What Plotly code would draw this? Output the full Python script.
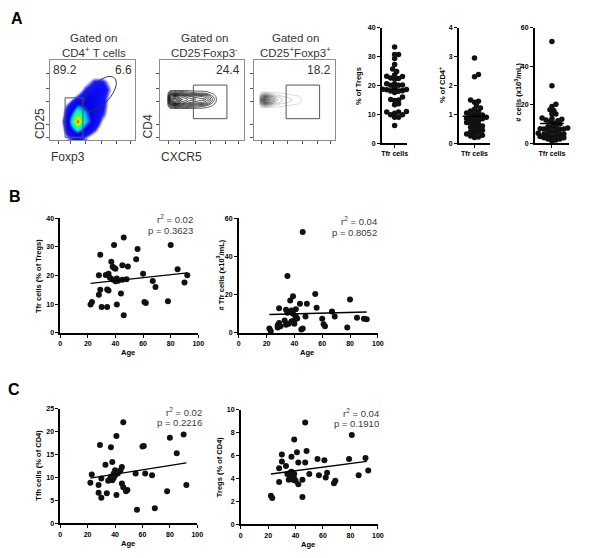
import numpy as np
import plotly.graph_objects as go

# ---------------- data ----------------
ages_b1 = [22, 23, 28, 28, 29, 29, 30, 33, 34, 34, 35, 35, 36, 37, 38, 38, 39, 39, 40, 40, 41,
           41, 42, 44, 45, 45, 46, 46, 48, 49, 55, 56, 60, 61, 62, 67, 69, 78, 80, 85, 90, 92]
tfr_tregs = [9.9, 10.8, 13.3, 20.1, 27.3, 15.0, 9.0, 20.2, 15.1, 9.0, 20.6, 14.8, 19.2, 24.8, 23.1,
             18.6, 22.6, 30.7, 22.4, 18.0, 19.0, 9.9, 18.2, 13.7, 23.6, 18.5, 33.3, 6.1, 18.7, 23.2,
             25.7, 29.3, 20.6, 10.8, 10.4, 18.1, 16.0, 11.0, 30.7, 22.2, 17.6, 20.1]

ages_b2 = [22, 23, 28, 28, 29, 29, 30, 33, 34, 34, 35, 35, 36, 37, 38, 38, 39, 39, 40, 40, 41,
           41, 42, 44, 45, 46, 46, 48, 49, 55, 56, 60, 61, 62, 67, 69, 78, 80, 85, 90, 92]
tfr_count = [2.2, 1.0, 4.0, 2.8, 12.9, 5.2, 3.5, 6.5, 12.1, 4.2, 29.8, 10.5, 4.8, 16.9, 11.7, 6.0,
             10.0, 19.1, 6.6, 4.8, 12.4, 8.6, 7.5, 15.2, 1.7, 52.8, 2.2, 8.6, 15.2, 20.3, 13.1, 7.4,
             4.5, 3.4, 11.2, 8.6, 2.8, 17.4, 7.9, 7.4, 7.1]

ages_c1 = [22, 23, 28, 28, 29, 30, 30, 33, 34, 35, 36, 37, 37, 38, 37, 38, 39, 39, 40, 40, 41, 41,
           41, 42, 44, 45, 46, 45, 46, 48, 49, 55, 56, 60, 61, 62, 67, 69, 78, 80, 85, 90, 92]
tfh_cd4 = [8.9, 10.7, 6.7, 8.4, 17.1, 9.8, 5.6, 12.8, 6.6, 9.3, 9.6, 9.8, 10.2, 9.4, 16.6, 13.4,
           10.9, 9.9, 11.6, 10.5, 11.1, 19.1, 6.2, 10.9, 11.6, 12.3, 22.1, 8.7, 7.9, 7.0, 7.3, 10.9,
           3.0, 16.8, 16.9, 10.9, 10.5, 3.3, 7.0, 18.7, 15.3, 19.4, 8.4]

ages_c2 = [22, 23, 28, 28, 30, 30, 33, 34, 35, 36, 36, 37, 37, 38, 38, 39, 39, 39, 40, 41, 42, 42,
           45, 45, 47, 47, 48, 50, 56, 57, 61, 62, 63, 68, 69, 79, 81, 86, 91, 93]
tregs_cd4 = [2.5, 2.3, 4.9, 3.7, 5.5, 6.1, 5.1, 4.4, 3.9, 4.2, 4.5, 4.6, 5.9, 3.9, 4.3, 7.4, 4.0,
             4.4, 3.8, 6.3, 5.4, 3.5, 2.4, 3.9, 8.9, 5.4, 6.4, 4.4, 5.7, 4.3, 5.6, 4.1, 4.5, 3.6,
             3.8, 5.7, 7.8, 4.3, 5.8, 4.7]

tfr_pct_cd4 = [2.95, 2.38, 2.30, 1.50, 1.45, 1.42, 1.30, 1.22, 1.18, 1.10, 1.05, 1.02, 0.98, 0.95,
               0.93, 0.90, 0.88, 0.85, 0.82, 0.78, 0.75, 0.72, 0.68, 0.65, 0.60, 0.55, 0.52, 0.48,
               0.45, 0.40, 0.38, 0.35, 0.32, 0.28, 0.25, 0.22, 0.20, 1.12, 0.86, 0.62]

median_tregs = 18.7
median_cd4 = 0.93
median_count = 10.2

fit_age = [22, 92]
fit_b1 = [17.3, 20.9]
fit_b2 = [9.6, 10.9]
fit_c1 = [9.9, 13.2]
fit_c2 = [4.4, 5.5]

stat_r2 = ["0.02", "0.04", "0.02", "0.04"]
stat_p = ["0.3623", "0.8052", "0.2216", "0.1910"]

flow_titles = ["CD4<sup>+</sup> T cells", "CD25<sup>-</sup>Foxp3<sup>-</sup>",
               "CD25<sup>+</sup>Foxp3<sup>+</sup>"]
flow_pcts = ["89.2", "6.6", "24.4", "18.2"]

# flow plot 1 density (rows = CD25 level, cols = Foxp3 level)
flow1_x = [0.15, 1.15, 2.15, 3.15, 4.15, 5.15, 6.15, 7.15, 8.15, 9.15, 10.15]
flow1_y = [0.35, 1.35, 2.35, 3.35, 4.35, 5.35, 6.35, 7.35, 8.35, 9.35, 10.35]
flow1_z = [
    [0, 0, 1.5, 2.5, 1.5, 0, 0, 0, 0, 0, 0],
    [0, 0, 3.5, 6.5, 4.0, 2.0, 0, 0, 0, 0, 0],
    [0, 0.5, 4.5, 10.0, 6.0, 3.5, 1.0, 0, 0, 0, 0],
    [0, 0, 3.5, 7.5, 5.5, 3.5, 2.0, 0, 0, 0, 0],
    [0, 0, 2.0, 5.0, 4.5, 3.5, 2.5, 0, 0, 0, 0],
    [0, 0, 0, 2.0, 3.5, 3.5, 2.5, 0.5, 0, 0, 0],
    [0, 0, 0, 0, 2.0, 3.0, 3.0, 1.0, 0, 0, 0],
    [0, 0, 0, 0, 0.5, 2.0, 2.0, 0.5, 0, 0, 0],
    [0, 0, 0, 0, 0, 0, 0, 0, 0, 0, 0],
    [0, 0, 0, 0, 0, 0, 0, 0, 0, 0, 0],
    [0, 0, 0, 0, 0, 0, 0, 0, 0, 0, 0],
]
# flow plot 2 density (CD4 vs CXCR5)
flow2_x = [0.9, 1.25, 1.8, 2.5, 3.5, 4.5, 5.5, 6.3, 6.9]
flow2_y = [3.9, 4.3, 4.7, 5.1, 5.5, 5.9, 6.3]
flow2_z = [
    [0, 0, 0, 0, 0, 0, 0, 0, 0],
    [0, 2.0, 3.0, 2.5, 2.0, 1.5, 1.0, 0.3, 0],
    [0, 5.0, 8.0, 5.0, 4.0, 3.5, 3.0, 1.0, 0],
    [0, 6.0, 9.0, 6.0, 5.0, 4.5, 4.0, 1.5, 0],
    [0, 5.0, 7.0, 5.0, 4.0, 3.5, 3.0, 1.0, 0],
    [0, 2.0, 2.5, 2.0, 1.5, 1.0, 0.8, 0.3, 0],
    [0, 0, 0, 0, 0, 0, 0, 0, 0],
]
# flow plot 3 density
flow3_x = [0.7, 1.0, 1.4, 2.0, 2.7, 3.5, 4.5, 5.5, 6.4]
flow3_y = [4.0, 4.4, 4.75, 5.05, 5.35, 5.7, 6.1]
flow3_z = [
    [0, 0, 0, 0, 0, 0, 0, 0, 0],
    [0, 2.0, 3.0, 2.0, 0.8, 0.5, 0.3, 0.2, 0],
    [0, 5.0, 8.0, 5.0, 2.0, 1.2, 0.8, 0.4, 0],
    [0, 6.0, 10.0, 6.0, 2.5, 1.5, 1.0, 0.5, 0],
    [0, 5.0, 8.0, 5.0, 2.0, 1.2, 0.8, 0.4, 0],
    [0, 2.0, 3.0, 2.0, 0.8, 0.5, 0.3, 0.2, 0],
    [0, 0, 0, 0, 0, 0, 0, 0, 0],
]
# gates (axis units 0-10)
gate1_rect = [1.74, 0.37, 3.84, 5.3]
gate1_ellipse = {"cx": 99, "cy": 91, "a": 22, "b": 10.5, "angle": 47}  # pixel space
gate2_rect = [4.0, 2.7, 8.0, 6.9]
gate3_rect = [3.98, 2.7, 8.07, 6.9]

# ---------------- layout helpers ----------------
W, H = 591, 558
FONT = "Liberation Sans, Arial, sans-serif"

layout = dict(width=W, height=H, margin=dict(l=0, r=0, t=0, b=0), autosize=False,
              paper_bgcolor="white", plot_bgcolor="rgba(0,0,0,0)", showlegend=False,
              font=dict(family=FONT, color="black"), annotations=[], shapes=[])
fig = go.Figure()


def refs(i):
    return ("x" if i == 1 else f"x{i}"), ("y" if i == 1 else f"y{i}")


def add_axes(i, xd, yd, xcfg, ycfg):
    xr, yr = refs(i)
    layout["xaxis" if i == 1 else f"xaxis{i}"] = dict(domain=[xd[0] / W, xd[1] / W], anchor=yr, **xcfg)
    layout["yaxis" if i == 1 else f"yaxis{i}"] = dict(domain=[1 - yd[1] / H, 1 - yd[0] / H], anchor=xr, **ycfg)


def ann(text, x, y, size, xanchor="center", yanchor="middle", angle=0, color="black"):
    layout["annotations"].append(dict(text=text, x=x / W, y=1 - y / H, xref="paper", yref="paper",
                                      showarrow=False, xanchor=xanchor, yanchor=yanchor,
                                      textangle=angle, font=dict(size=size, color=color, family=FONT)))


def bold_ticks(vals):
    return [f"<b>{v}</b>" for v in vals]


# ---------------- flow plots ----------------
flow_ax = dict(range=[0, 10], showline=True, mirror=True, linecolor="#8c8c8c", linewidth=1,
               ticks="outside", ticklen=3, tickwidth=1, tickcolor="#555", showticklabels=False,
               showgrid=False, zeroline=False)
flow_boxes = [([49, 135], [57, 138]), ([160, 245], [57, 138]), ([255, 338], [57, 138])]
for k, (xd, yd) in enumerate(flow_boxes):
    add_axes(k + 1, xd, yd, dict(flow_ax, tickvals=[1, 2.4, 4.2, 6, 7.8, 9.4]),
             dict(flow_ax, tickvals=[0.3, 2.0, 4.8, 6.5, 8.3]))

x1, y1 = refs(1)
fig.add_trace(go.Heatmap(x=flow1_x, y=flow1_y, z=flow1_z, zsmooth="best", zmin=0, zmax=10,
                         showscale=False, xaxis=x1, yaxis=y1, hoverinfo="skip",
                         colorscale=[[0, "#ffffff"], [0.1, "#ffffff"], [0.16, "#5a5aff"],
                                     [0.2, "#1414ff"], [0.45, "#0000e6"], [0.56, "#00b4ff"],
                                     [0.66, "#00ffd0"], [0.76, "#40ff40"], [0.86, "#d8ff00"],
                                     [0.93, "#ffa000"], [1, "#ee0000"]]))
x2, y2 = refs(2)
fig.add_trace(go.Contour(x=flow2_x, y=flow2_y, z=flow2_z, showscale=False, xaxis=x2, yaxis=y2,
                         contours=dict(coloring="lines", start=0.4, end=9.0, size=0.6),
                         line=dict(width=0.8, smoothing=1.0),
                         colorscale=[[0, "#333333"], [1, "#000000"]], hoverinfo="skip"))
x3, y3 = refs(3)
fig.add_trace(go.Contour(x=flow3_x, y=flow3_y, z=flow3_z, showscale=False, xaxis=x3, yaxis=y3,
                         contours=dict(coloring="lines", start=0.3, end=10.0, size=0.6),
                         line=dict(width=0.8, smoothing=1.0),
                         colorscale=[[0, "#d0d0d0"], [0.25, "#909090"], [1, "#222222"]],
                         hoverinfo="skip"))

for (xr, yr), g in [(refs(1), gate1_rect), (refs(2), gate2_rect), (refs(3), gate3_rect)]:
    layout["shapes"].append(dict(type="rect", xref=xr, yref=yr, x0=g[0], y0=g[1], x1=g[2], y1=g[3],
                                 line=dict(color="#555", width=1)))

# ellipse gate (computed in pixel space, converted to axis units of plot 1)
e = gate1_ellipse
t = np.linspace(0, 2 * np.pi, 60)
ang = np.deg2rad(e["angle"])
pxs = e["cx"] + e["a"] * np.cos(t) * np.cos(ang) - e["b"] * np.sin(t) * np.sin(ang)
pys = e["cy"] - (e["a"] * np.cos(t) * np.sin(ang) + e["b"] * np.sin(t) * np.cos(ang))
ex = (pxs - 49) / 86 * 10
ey = (138 - pys) / 81 * 10
path = "M " + " L ".join(f"{a:.3f},{b:.3f}" for a, b in zip(ex, ey)) + " Z"
layout["shapes"].append(dict(type="path", xref="x", yref="y", path=path,
                             line=dict(color="#333", width=1)))

# flow texts
for cx, title in zip([93, 205, 298], flow_titles):
    ann("Gated on", cx, 34, 11.5, color="#333")
    ann(title, cx, 49, 11.5, color="#333")
ann(flow_pcts[0], 50, 67, 12, xanchor="left", color="#333")
ann(flow_pcts[1], 134, 67, 12, xanchor="right", color="#333")
ann(flow_pcts[2], 243, 67, 12, xanchor="right", color="#333")
ann(flow_pcts[3], 336, 67, 12, xanchor="right", color="#333")
ann("CD25", 39, 121, 12, angle=-90, color="#333")
ann("Foxp3", 67, 155, 12, color="#333")
ann("CD4", 148, 124, 12, angle=-90, color="#333")
ann("CXCR5", 182, 155, 12, color="#333")

# ---------------- dot plots ----------------
TICKF = dict(size=7, family=FONT, color="black")
axis_base = dict(showline=True, linecolor="black", linewidth=1.5, ticks="outside", ticklen=3,
                 tickwidth=1.3, tickcolor="black", showgrid=False, zeroline=False, tickfont=TICKF)


def swarm(vals, ppu, step=2.0, mind=3.8):
    vals = np.asarray(vals, dtype=float)
    order = np.argsort(vals)
    placed = []
    offs = np.zeros(len(vals))
    cands = [0.0]
    for j in range(1, 30):
        cands += [j * step, -j * step]
    for i in order:
        yv = vals[i] * ppu
        for c in cands:
            if all((c - a) ** 2 + (yv - b) ** 2 >= mind ** 2 for a, b in placed):
                break
        placed.append((c, yv))
        offs[i] = c
    return offs


dot_specs = [
    (4, tfr_tregs, 40, [0, 10, 20, 30, 40], [385, 411], median_tregs, 9, "% of Tregs", 362, 83),
    (5, tfr_pct_cd4, 4, [0, 1, 2, 3, 4], [463, 495], median_cd4, 12, "% of CD4<sup>+</sup>", 446, 82),
    (6, tfr_count, 60, [0, 20, 40, 60], [540, 575], median_count, 12,
     "# cells (x10<sup>3</sup>/mL)", 523, 89),
]
for idx, vals, ymax, yt, xd, med, mhalf, ytitle, tx, ty in dot_specs:
    wpx = xd[1] - xd[0]
    add_axes(idx, xd, [24, 141],
             dict(axis_base, range=[-1, 1], tickvals=[0], ticktext=["<b>Tfr cells</b>"]),
             dict(axis_base, range=[0, ymax], tickvals=yt, ticktext=bold_ticks(yt)))
    xr, yr = refs(idx)
    offs = swarm(vals, 117 / ymax) * 2 / wpx
    fig.add_trace(go.Scatter(x=offs, y=vals, mode="markers", xaxis=xr, yaxis=yr,
                             marker=dict(size=5.5, color="#111"), cliponaxis=False))
    mh = mhalf * 2 / wpx
    fig.add_trace(go.Scatter(x=[-mh, mh], y=[med, med], mode="lines", xaxis=xr, yaxis=yr,
                             line=dict(color="black", width=1.5)))
    ann(f"<b>{ytitle}</b>", tx, ty, 7.5, angle=-90)

# ---------------- scatter / regression plots ----------------
xt = [0, 20, 40, 60, 80, 100]
sc_specs = [
    (7, ages_b1, tfr_tregs, fit_b1, [59, 199], [217, 333], [0, 10, 20, 30, 40], 40,
     "Tfr cells (% of Tregs)", 37, 275, 196, 218),
    (8, ages_b2, tfr_count, fit_b2, [240, 381], [217, 333], [0, 20, 40, 60], 60,
     "# Tfr cells (x10<sup>3</sup>/mL)", 221, 275, 382, 220),
    (9, ages_c1, tfh_cd4, fit_c1, [59, 198], [410, 526], [0, 5, 10, 15, 20, 25], 25,
     "Tfh cells (% of CD4)", 37, 467, 205, 413),
    (10, ages_c2, tregs_cd4, fit_c2, [242, 381], [411, 527], [0, 2, 4, 6, 8, 10], 10,
     "Tregs (% of CD4)", 220, 469, 384, 414),
]
for n, (idx, ages, vals, fit, xd, yd, yt, ymax, ytitle, tx, ty, sx, sy) in enumerate(sc_specs):
    add_axes(idx, xd, yd,
             dict(axis_base, range=[0, 100], tickvals=xt, ticktext=bold_ticks(xt)),
             dict(axis_base, range=[0, ymax], tickvals=yt, ticktext=bold_ticks(yt)))
    xr, yr = refs(idx)
    fig.add_trace(go.Scatter(x=ages, y=vals, mode="markers", xaxis=xr, yaxis=yr,
                             marker=dict(size=6, color="#111"), cliponaxis=False))
    fig.add_trace(go.Scatter(x=fit_age, y=fit, mode="lines", xaxis=xr, yaxis=yr,
                             line=dict(color="black", width=1.3)))
    ann(f"<b>{ytitle}</b>", tx, ty, 7.5, angle=-90)
    ann("<b>Age</b>", (xd[0] + xd[1]) / 2 - 1, yd[1] + 20, 7.5)
    ann(f"r<sup>2</sup> = {stat_r2[n]}", sx, sy, 9.5, xanchor="right", color="#3a3a3a")
    ann(f"p = {stat_p[n]}", sx, sy + 11, 9.5, xanchor="right", color="#3a3a3a")

# panel letters
ann("<b>A</b>", 15, 15, 16)
ann("<b>B</b>", 13, 195, 16)
ann("<b>C</b>", 12, 390, 16)

fig.update_layout(**layout)
fig.write_html("out.html")
